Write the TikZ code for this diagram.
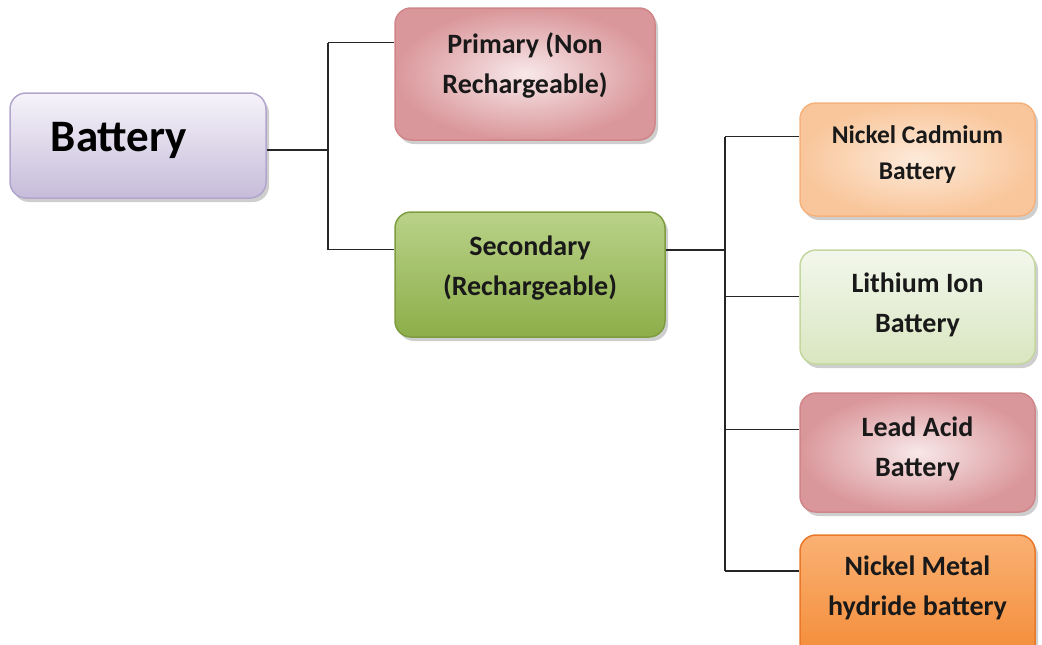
\documentclass[tikz,border=0pt]{standalone}
\usepackage{fontspec}
\setmainfont{Carlito}
\usetikzlibrary{shadows,calc}
\definecolor{lavtop}{HTML}{F6F3FA}
\definecolor{lavbot}{HTML}{C6BCDA}
\definecolor{lavline}{HTML}{B3A6CD}
\definecolor{pinkin}{HTML}{F8E8E9}
\definecolor{pinkout}{HTML}{DA979B}
\definecolor{pinkline}{HTML}{D08589}
\definecolor{grtop}{HTML}{B9D288}
\definecolor{grbot}{HTML}{8DAE4A}
\definecolor{grline}{HTML}{7E9D40}
\definecolor{peachin}{HTML}{FDEADA}
\definecolor{peachout}{HTML}{F9C69B}
\definecolor{peachline}{HTML}{F5B27C}
\definecolor{ltgrtop}{HTML}{F3F7EC}
\definecolor{ltgrbot}{HTML}{D9E6C0}
\definecolor{ltgrline}{HTML}{C4D79E}
\definecolor{ortop}{HTML}{FAB173}
\definecolor{orbot}{HTML}{F38A35}
\definecolor{orline}{HTML}{E9782A}
\tikzset{
  x=1pt, y=-1pt,
  box/.style={rounded corners=16pt, line width=1.5pt, inner sep=0pt,
    drop shadow={shadow xshift=3pt, shadow yshift=-4pt, opacity=0.35, fill=black!55}},
  lav/.style={box, draw=lavline, top color=lavtop, bottom color=lavbot},
  pinkbox/.style={box, draw=pinkline, inner color=pinkin, outer color=pinkout},
  greenbox/.style={box, draw=grline, top color=grtop, bottom color=grbot},
  peachbox/.style={box, draw=peachline, inner color=peachin, outer color=peachout},
  ltgreenbox/.style={box, draw=ltgrline, top color=ltgrtop, bottom color=ltgrbot},
  orangebox/.style={box, draw=orline, top color=ortop, bottom color=orbot},
  txt/.style={font=\bfseries\fontsize{28}{40}\selectfont, align=center, text=black!90},
  link/.style={line width=1.5pt, draw=black!85}
}
\begin{document}
\begin{tikzpicture}
\useasboundingbox (0,0) rectangle (1042,645);
% boxes
\node[lav, minimum width=256pt, minimum height=105pt] (bat) at (138,145.5) {};
\node[font=\bfseries\fontsize{45}{54}\selectfont] (battxt) at (119,140) {Battery};
\node[pinkbox, minimum width=260pt, minimum height=132pt,
  label={[txt, yshift=9pt]center:Primary (Non\\Rechargeable)}] (prim) at (525,74) {};
\node[greenbox, minimum width=270pt, minimum height=125pt,
  label={[txt, yshift=6pt]center:Secondary\\(Rechargeable)}] (sec) at (530,274.5) {};
\node[peachbox, minimum width=235pt, minimum height=113pt,
  label={[txt, font=\bfseries\fontsize{25.5}{36}\selectfont, yshift=5pt]center:Nickel Cadmium\\Battery}] (nicd) at (917.5,159.5) {};
\node[ltgreenbox, minimum width=235pt, minimum height=114pt,
  label={[txt, yshift=2pt]center:Lithium Ion\\Battery}] (li) at (917.5,307) {};
\node[pinkbox, minimum width=235pt, minimum height=119pt,
  label={[txt, yshift=4pt]center:Lead Acid\\Battery}] (lead) at (917.5,452.5) {};
\node[orangebox, minimum width=235pt, minimum height=130pt] (nimh) at (917.5,600) {};
\node[txt] (nimhtxt) at (917.5,588) {Nickel Metal\\hydride battery};
% connectors
\coordinate (j1) at (328,150);
\coordinate (j2) at (725,250);
\coordinate (pin) at ($(prim.north west)!0.265!(prim.south west)$);
\coordinate (secin) at ($(sec.north west)!0.304!(sec.south west)$);
\draw[link] (bat.east |- j1) -- (j1);
\draw[link] (pin -| j1) -- (secin -| j1);
\draw[link] (pin -| j1) -- (pin);
\draw[link] (secin -| j1) -- (secin);
\coordinate (nicdin) at ($(nicd.north west)!0.3!(nicd.south west)$);
\coordinate (liin) at ($(li.north west)!0.41!(li.south west)$);
\coordinate (leadin) at ($(lead.north west)!0.31!(lead.south west)$);
\coordinate (nimhin) at ($(nimh.north west)!0.28!(nimh.south west)$);
\draw[link] (sec.east |- j2) -- (j2);
\draw[link] (nicdin -| j2) -- (nimhin -| j2);
\draw[link] (nicdin -| j2) -- (nicdin);
\draw[link] (liin -| j2) -- (liin);
\draw[link] (leadin -| j2) -- (leadin);
\draw[link] (nimhin -| j2) -- (nimhin);
\end{tikzpicture}
\end{document}
